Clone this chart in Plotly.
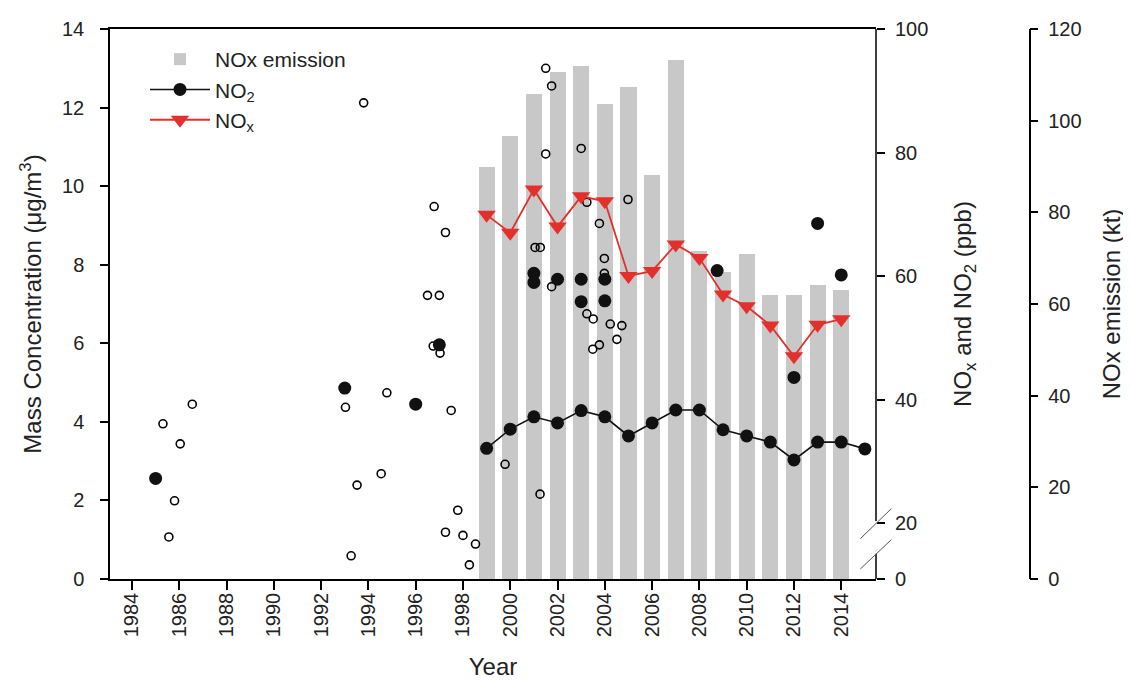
import plotly.graph_objects as go

# ---------------- data ----------------
emis_years = list(range(1999, 2015))
emis_kt = [89.8, 96.7, 105.8, 110.6, 111.9, 103.7, 107.4, 88.1, 113.2,
           71.5, 67.0, 71.0, 62.0, 62.0, 64.1, 63.1]

no2_years = list(range(1999, 2016))
no2_ppb = [32.1, 35.2, 37.2, 36.2, 38.2, 37.2, 34.1, 36.2, 38.3, 38.3,
           35.1, 34.1, 33.1, 30.2, 33.1, 33.1, 32.0]

nox_years = list(range(1999, 2015))
nox_ppb = [69.9, 67.0, 74.0, 68.0, 72.9, 72.1, 60.0, 60.8, 65.1, 62.9,
           57.0, 55.1, 52.0, 47.0, 52.1, 53.0]

mass_filled_x = [1985.0, 1993.0, 1996.0, 1997.0, 2001.0, 2001.0, 2002.0,
                 2003.0, 2003.0, 2004.0, 2004.0, 2008.75, 2013.0, 2014.0, 2012.0]
mass_filled_y = [2.56, 4.86, 4.45, 5.96, 7.78, 7.55, 7.63,
                 7.63, 7.06, 7.63, 7.08, 7.85, 9.05, 7.74, 5.13]

mass_open_x = [1985.31, 1986.04, 1985.8, 1985.56, 1986.55, 1993.03, 1993.52,
               1993.27, 1994.54, 1994.78, 1996.5, 1997.0, 1996.74, 1997.03,
               1997.5, 1997.78, 1997.26, 1998.0, 1998.53, 1998.27, 1993.8,
               1996.78, 1997.26, 2001.5, 2001.75, 2001.5, 2003.0, 2003.24,
               2003.77, 2004.98, 2001.05, 2001.27, 2003.98, 2003.98, 2001.75,
               2003.24, 2003.51, 2004.23, 2004.72, 2003.77, 2003.49, 2004.51,
               1999.78, 2001.26]
mass_open_y = [3.95, 3.44, 1.99, 1.07, 4.45, 4.37, 2.39,
               0.59, 2.68, 4.74, 7.22, 7.22, 5.93, 5.75,
               4.29, 1.75, 1.19, 1.11, 0.89, 0.36, 12.12,
               9.48, 8.82, 13.0, 12.55, 10.82, 10.96, 9.59,
               9.05, 9.66, 8.44, 8.44, 8.16, 7.78, 7.44,
               6.75, 6.62, 6.49, 6.45, 5.96, 5.85, 6.10,
               2.92, 2.16]

year_ticks = list(range(1984, 2015, 2))
mass_ticks = [0, 2, 4, 6, 8, 10, 12, 14]
ppb_break_low = 10.93          # axis bottom (labelled "0", axis is broken)
ppb_ticks = [ppb_break_low, 20, 40, 60, 80, 100]
ppb_ticktext = ["0", "20", "40", "60", "80", "100"]
emis_ticks = [0, 20, 40, 60, 80, 100, 120]

# ---------------- figure ----------------
FONT = "Arial, 'Liberation Sans', sans-serif"
TXT = "#222222"
GRAY = "#c8c8c8"
RED = "#e3302c"

fig = go.Figure()

fig.add_trace(go.Bar(
    x=emis_years, y=emis_kt, name="NOx emission", yaxis="y",
    marker=dict(color=GRAY, line=dict(width=0)), width=0.68,
))

fig.add_trace(go.Scatter(
    x=mass_open_x, y=mass_open_y, yaxis="y2", mode="markers", showlegend=False,
    marker=dict(symbol="circle-open", size=8, color="black", line=dict(width=1.6)),
))
fig.add_trace(go.Scatter(
    x=mass_filled_x, y=mass_filled_y, yaxis="y2", mode="markers", showlegend=False,
    marker=dict(symbol="circle", size=13, color="#111111"),
))

fig.add_trace(go.Scatter(
    x=no2_years, y=no2_ppb, yaxis="y3", mode="lines+markers", name="NO<sub>2</sub>",
    line=dict(color="#111111", width=1.6),
    marker=dict(symbol="circle", size=13, color="#111111"),
))
fig.add_trace(go.Scatter(
    x=nox_years, y=nox_ppb, yaxis="y3", mode="lines+markers", name="NO<sub>x</sub>",
    line=dict(color=RED, width=1.8),
    marker=dict(symbol="triangle-down", size=16, color=RED),
))

L, R_PAPER = 102, 1030
PW = R_PAPER - L
x_dom_end = (868 - L) / PW
emis_pos = (1021.5 - L) / PW

def px(xp):
    return (xp - L) / PW

def py(yp):
    return (571 - yp) / 550

axis_common = dict(showgrid=False, zeroline=False, ticks="outside", ticklen=8,
                   tickwidth=1.5, tickcolor="black", linecolor="black",
                   linewidth=1.5, automargin=False,
                   tickfont=dict(family=FONT, size=20, color=TXT),
                   title_font=dict(family=FONT, size=24, color=TXT))

fig.update_layout(
    width=1131, height=683,
    margin=dict(l=L, r=1131 - R_PAPER, t=21, b=683 - 571),
    paper_bgcolor="white", plot_bgcolor="white",
    font=dict(family=FONT, color=TXT),
    bargap=0,
    xaxis=dict(domain=[0, x_dom_end], range=[1983.07, 2015.47], anchor="y",
               tickvals=year_ticks, tickangle=-90, showline=True, mirror=True,
               title=dict(text="Year", standoff=22), ticklabelstandoff=-5,
               **{**axis_common, "ticklen": 9}),
    yaxis=dict(range=[0, 120], anchor="free", position=emis_pos, side="right",
               tickvals=emis_ticks, showline=True,
               title=dict(text="NOx emission (kt)", standoff=22),
               ticklabelstandoff=6, **axis_common),
    yaxis2=dict(range=[0, 14], overlaying="y", anchor="x", side="left",
                tickvals=mass_ticks, showline=True,
                title=dict(text="Mass Concentration (μg/m<sup>3</sup>)", standoff=14),
                ticklabelstandoff=12, **axis_common),
    yaxis3=dict(range=[ppb_break_low, 100], overlaying="y", anchor="x", side="right",
                tickvals=ppb_ticks, ticktext=ppb_ticktext,
                title=dict(text="NO<sub>x</sub> and NO<sub>2</sub> (ppb)", standoff=26),
                ticklabelstandoff=6,
                **{**axis_common, "linewidth": 0}),
    legend=dict(x=px(137), y=py(31), xanchor="left", yanchor="top",
                bgcolor="rgba(0,0,0,0)", traceorder="normal",
                font=dict(family=FONT, size=21, color=TXT), itemwidth=60,
                tracegroupgap=0),
)
fig.update_layout(yaxis3_showline=False)

# broken ppb axis line + break marks
shape_style = dict(type="line", xref="paper", yref="paper", layer="above")
fig.add_shape(x0=x_dom_end, x1=x_dom_end, y0=1.0, y1=py(513),
              line=dict(color="black", width=1.5), **shape_style)
fig.add_shape(x0=x_dom_end, x1=x_dom_end, y0=py(545.7), y1=0,
              line=dict(color="black", width=1.5), **shape_style)
fig.add_shape(x0=px(852.3), x1=px(883.3), y0=py(530.7), y1=py(500.7),
              line=dict(color="#555555", width=1), **shape_style)
fig.add_shape(x0=px(852.3), x1=px(883.3), y0=py(561), y1=py(531.7),
              line=dict(color="#555555", width=1), **shape_style)

fig.write_html("out.html")
